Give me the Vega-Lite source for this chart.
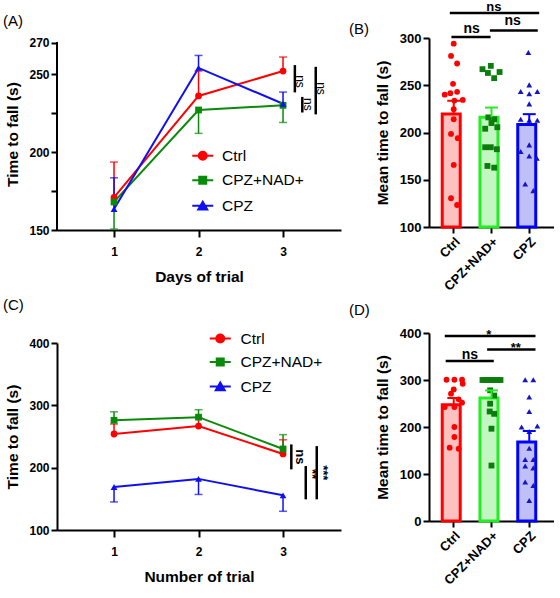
{
  "$schema": "https://vega.github.io/schema/vega-lite/v6.json",
  "background": "white",
  "padding": {"left": 3, "top": 1, "right": 0, "bottom": 0},
  "config": {
    "font": "Liberation Sans",
    "view": {"stroke": null},
    "axis": {"domainColor": "#000", "domainWidth": 2, "tickColor": "#000", "tickWidth": 2, "tickSize": 6, "labelColor": "#000", "labelFontWeight": "bold", "labelFontSize": 12, "labelPadding": 2, "titleColor": "#000", "titleFontWeight": "bold", "titleFontSize": 15.5, "grid": false, "labelFlush": false, "labelOverlap": false},
    "title": {"fontSize": 15, "fontWeight": "normal", "color": "#000", "anchor": "start", "frame": "group", "baseline": "bottom"},
    "legend": {"labelFontSize": 15.5, "labelColor": "#000", "labelFontWeight": "normal", "padding": 0, "symbolSize": 100, "symbolStrokeWidth": 2, "symbolOpacity": 1, "labelOffset": 11.5, "rowPadding": 7.5}
  },
  "datasets": {
    "A": [
      {"day": 1, "group": "Ctrl", "val": 171, "err": 193.6},
      {"day": 2, "group": "Ctrl", "val": 236, "err": 252},
      {"day": 3, "group": "Ctrl", "val": 252, "err": 261},
      {"day": 1, "group": "CPZ+NAD+", "val": 168, "err": 150.6},
      {"day": 2, "group": "CPZ+NAD+", "val": 227, "err": 212},
      {"day": 3, "group": "CPZ+NAD+", "val": 230, "err": 219},
      {"day": 1, "group": "CPZ", "val": 163.5, "err": 183.5},
      {"day": 2, "group": "CPZ", "val": 254, "err": 262},
      {"day": 3, "group": "CPZ", "val": 231, "err": 238.5}
    ],
    "C": [
      {"day": 1, "group": "Ctrl", "val": 254, "err": 270},
      {"day": 2, "group": "Ctrl", "val": 266.7, "err": 280},
      {"day": 3, "group": "Ctrl", "val": 222, "err": 244.7},
      {"day": 1, "group": "CPZ+NAD+", "val": 276, "err": 289.6},
      {"day": 2, "group": "CPZ+NAD+", "val": 281, "err": 293},
      {"day": 3, "group": "CPZ+NAD+", "val": 230, "err": 253},
      {"day": 1, "group": "CPZ", "val": 169, "err": 145},
      {"day": 2, "group": "CPZ", "val": 182, "err": 157},
      {"day": 3, "group": "CPZ", "val": 155.6, "err": 130}
    ],
    "barsB": [
      {"group": "Ctrl", "mean": 219.7, "top": 233.6},
      {"group": "CPZ+NAD+", "mean": 216.2, "top": 226.4},
      {"group": "CPZ", "mean": 208.4, "top": 219.4}
    ],
    "barsD": [
      {"group": "Ctrl", "mean": 247.4, "top": 261.7},
      {"group": "CPZ+NAD+", "mean": 261.7, "top": 277.9},
      {"group": "CPZ", "mean": 168, "top": 191.5}
    ],
    "ptsB": [
      {"group": "Ctrl", "val": 294, "slot": 0}, {"group": "Ctrl", "val": 281, "slot": -0.6}, {"group": "Ctrl", "val": 273, "slot": 0.75}, {"group": "Ctrl", "val": 251.5, "slot": -0.15}, {"group": "Ctrl", "val": 240, "slot": -2}, {"group": "Ctrl", "val": 241.6, "slot": -0.75}, {"group": "Ctrl", "val": 243, "slot": 0.75}, {"group": "Ctrl", "val": 233.8, "slot": 0.15}, {"group": "Ctrl", "val": 234.5, "slot": 2}, {"group": "Ctrl", "val": 224.7, "slot": 0}, {"group": "Ctrl", "val": 214, "slot": 0}, {"group": "Ctrl", "val": 198.5, "slot": -0.6}, {"group": "Ctrl", "val": 194, "slot": 0.9}, {"group": "Ctrl", "val": 165.7, "slot": 0}, {"group": "Ctrl", "val": 130.4, "slot": -0.6}, {"group": "Ctrl", "val": 123.3, "slot": 0.75},
      {"group": "CPZ+NAD+", "val": 267, "slot": -2}, {"group": "CPZ+NAD+", "val": 270.5, "slot": -0.15}, {"group": "CPZ+NAD+", "val": 263, "slot": -0.8}, {"group": "CPZ+NAD+", "val": 264, "slot": 1.8}, {"group": "CPZ+NAD+", "val": 257.5, "slot": 0.6}, {"group": "CPZ+NAD+", "val": 216, "slot": -0.7}, {"group": "CPZ+NAD+", "val": 214, "slot": 0.6}, {"group": "CPZ+NAD+", "val": 210, "slot": 0}, {"group": "CPZ+NAD+", "val": 204, "slot": -1.4}, {"group": "CPZ+NAD+", "val": 205.6, "slot": 1.3}, {"group": "CPZ+NAD+", "val": 184.4, "slot": -1.4}, {"group": "CPZ+NAD+", "val": 184.4, "slot": -0.15}, {"group": "CPZ+NAD+", "val": 182.3, "slot": 1.2}, {"group": "CPZ+NAD+", "val": 164.6, "slot": -0.9}, {"group": "CPZ+NAD+", "val": 162.8, "slot": 0.6},
      {"group": "CPZ", "val": 284.6, "slot": -0.2}, {"group": "CPZ", "val": 250.4, "slot": 0}, {"group": "CPZ", "val": 243.3, "slot": -1.9}, {"group": "CPZ", "val": 243.3, "slot": 1.8}, {"group": "CPZ", "val": 240.9, "slot": 0}, {"group": "CPZ", "val": 230.3, "slot": 0}, {"group": "CPZ", "val": 214, "slot": -1.9}, {"group": "CPZ", "val": 213, "slot": 0}, {"group": "CPZ", "val": 213, "slot": 1.8}, {"group": "CPZ", "val": 186.9, "slot": 0}, {"group": "CPZ", "val": 179.8, "slot": -1.9}, {"group": "CPZ", "val": 175.2, "slot": 0}, {"group": "CPZ", "val": 172.8, "slot": 1.7}, {"group": "CPZ", "val": 145.5, "slot": -0.9}, {"group": "CPZ", "val": 138.5, "slot": 0.9}
    ],
    "ptsD": [
      {"group": "Ctrl", "val": 300.6, "slot": -1.6}, {"group": "Ctrl", "val": 300.6, "slot": 0.15}, {"group": "Ctrl", "val": 300.6, "slot": 1.85}, {"group": "Ctrl", "val": 292, "slot": 2}, {"group": "Ctrl", "val": 280, "slot": 0}, {"group": "Ctrl", "val": 270.9, "slot": -0.6}, {"group": "Ctrl", "val": 258.8, "slot": 1.1}, {"group": "Ctrl", "val": 251.7, "slot": 1.85}, {"group": "Ctrl", "val": 242.5, "slot": -2}, {"group": "Ctrl", "val": 242.5, "slot": 0.15}, {"group": "Ctrl", "val": 200, "slot": 0.15}, {"group": "Ctrl", "val": 178.7, "slot": 0.15}, {"group": "Ctrl", "val": 156, "slot": -0.9}, {"group": "Ctrl", "val": 153.8, "slot": 1.1},
      {"group": "CPZ+NAD+", "val": 300, "slot": -2}, {"group": "CPZ+NAD+", "val": 300, "slot": -1.33}, {"group": "CPZ+NAD+", "val": 300, "slot": -0.67}, {"group": "CPZ+NAD+", "val": 300, "slot": 0}, {"group": "CPZ+NAD+", "val": 300, "slot": 0.67}, {"group": "CPZ+NAD+", "val": 300, "slot": 1.33}, {"group": "CPZ+NAD+", "val": 300, "slot": 2}, {"group": "CPZ+NAD+", "val": 278, "slot": -0.3}, {"group": "CPZ+NAD+", "val": 267, "slot": 0.6}, {"group": "CPZ+NAD+", "val": 249.6, "slot": -0.3}, {"group": "CPZ+NAD+", "val": 233, "slot": -0.4}, {"group": "CPZ+NAD+", "val": 228, "slot": 0.6}, {"group": "CPZ+NAD+", "val": 196.4, "slot": 0}, {"group": "CPZ+NAD+", "val": 118, "slot": 0},
      {"group": "CPZ", "val": 300.6, "slot": -0.9}, {"group": "CPZ", "val": 300.6, "slot": 0.9}, {"group": "CPZ", "val": 263.8, "slot": 0}, {"group": "CPZ", "val": 233, "slot": 0}, {"group": "CPZ", "val": 200, "slot": -1.7}, {"group": "CPZ", "val": 202, "slot": 1.8}, {"group": "CPZ", "val": 190.6, "slot": 0}, {"group": "CPZ", "val": 155, "slot": 0}, {"group": "CPZ", "val": 131, "slot": -0.9}, {"group": "CPZ", "val": 131, "slot": 0.9}, {"group": "CPZ", "val": 117, "slot": -0.9}, {"group": "CPZ", "val": 113, "slot": 0.9}, {"group": "CPZ", "val": 83, "slot": -0.9}, {"group": "CPZ", "val": 75.7, "slot": 0.9}, {"group": "CPZ", "val": 43.8, "slot": 0}
    ]
  },
  "spacing": 8,
  "resolve": {"scale": {"color": "independent", "shape": "independent", "fill": "independent", "stroke": "independent"}, "legend": {"color": "independent", "shape": "independent", "stroke": "independent"}},
  "hconcat": [
    {
      "spacing": 12,
      "resolve": {"scale": {"color": "independent", "shape": "independent", "fill": "independent", "stroke": "independent"}, "legend": {"color": "independent", "shape": "independent", "stroke": "independent"}},
      "vconcat": [
        {
          "width": 284, "height": 192,
          "title": {"text": "(A)", "dx": -54, "offset": 8},
          "data": {"name": "A"},
          "encoding": {
            "x": {"field": "day", "type": "quantitative", "scale": {"domain": [0.325, 3.686], "nice": false, "zero": false}, "axis": {"values": [1, 2, 3], "format": "d", "title": "Days of trial", "titlePadding": 12, "labelPadding": 9, "tickSize": 7}},
            "y": {"field": "val", "type": "quantitative", "scale": {"domain": [150, 273.2], "nice": false, "zero": false}, "axis": {"domain": false, "values": [150, 175, 200, 225, 250, 270], "labelExpr": "datum.value == 175 || datum.value == 225 ? '' : datum.label", "title": "Time to fall (s)", "titlePadding": 8}}
          },
          "layer": [
            {"mark": {"type": "rule", "strokeWidth": 2, "color": "#000", "strokeCap": "square"}, "encoding": {"x": {"datum": 0.325}, "y": {"datum": 150}, "y2": {"datum": 270}}},
            {"mark": {"type": "rule", "strokeWidth": 1.5}, "encoding": {"y2": {"field": "err"}, "color": {"field": "group", "type": "nominal", "scale": {"domain": ["Ctrl", "CPZ+NAD+", "CPZ"], "range": ["#ff0000", "#0a8a0a", "#1010ee"]}}}},
            {"mark": {"type": "tick", "orient": "horizontal", "size": 8, "thickness": 1.5}, "encoding": {"y": {"field": "err", "type": "quantitative"}, "color": {"field": "group", "type": "nominal"}}},
            {"mark": {"type": "line", "strokeWidth": 2}, "encoding": {"color": {"field": "group", "type": "nominal"}}},
            {"transform": [{"filter": "datum.group === 'Ctrl'"}], "mark": {"type": "point", "shape": "circle", "filled": true, "opacity": 1, "size": 46}, "encoding": {"color": {"field": "group", "type": "nominal"}}},
            {"transform": [{"filter": "datum.group === 'CPZ+NAD+'"}], "mark": {"type": "point", "shape": "square", "filled": true, "opacity": 1, "size": 46}, "encoding": {"color": {"field": "group", "type": "nominal"}}},
            {"transform": [{"filter": "datum.group === 'CPZ'"}], "mark": {"type": "point", "shape": "triangle-up", "filled": true, "opacity": 1, "size": 46}, "encoding": {"color": {"field": "group", "type": "nominal"}}},
            {"mark": {"type": "point", "filled": true, "opacity": 0, "size": 46},
             "encoding": {
               "color": {"field": "group", "type": "nominal", "legend": {"title": null, "orient": "none", "legendX": 138, "legendY": 110, "rowPadding": 7.5, "symbolOpacity": 1}},
               "stroke": {"field": "group", "type": "nominal", "scale": {"domain": ["Ctrl", "CPZ+NAD+", "CPZ"], "range": ["#ff0000", "#0a8a0a", "#1010ee"]}},
               "shape": {"field": "group", "type": "nominal", "scale": {"domain": ["Ctrl", "CPZ+NAD+", "CPZ"], "range": ["M-2.1,0H2.1M0.8,0A0.8,0.8,0,1,1,-0.8,0A0.8,0.8,0,1,1,0.8,0Z", "M-2.1,0H2.1M-0.7,-0.7H0.7V0.7H-0.7Z", "M-2.1,0H2.1M0,-0.8L0.9,0.75L-0.9,0.75Z"]}}
             }},
            {"data": {"values": [{"day": 3.14, "val": 238.3, "err": 255.8}, {"day": 3.228, "val": 225.4, "err": 235.4}, {"day": 3.387, "val": 224.2, "err": 254.7}]}, "mark": {"type": "rule", "strokeWidth": 2.5, "color": "#000"}, "encoding": {"y2": {"field": "err"}}},
            {"data": {"values": [{"day": 3.196, "val": 245.3, "t": "ns"}, {"day": 3.298, "val": 230.6, "t": "ns"}, {"day": 3.45, "val": 240.8, "t": "ns"}]}, "mark": {"type": "text", "angle": 90, "fontSize": 12, "color": "#000", "align": "center", "baseline": "middle"}, "encoding": {"text": {"field": "t"}}}
          ]
        },
        {
          "width": 284, "height": 187,
          "title": {"text": "(C)", "dx": -54, "offset": 18},
          "data": {"name": "C"},
          "encoding": {
            "x": {"field": "day", "type": "quantitative", "scale": {"domain": [0.325, 3.686], "nice": false, "zero": false}, "axis": {"values": [1, 2, 3], "format": "d", "title": "Number of trial", "titlePadding": 12, "labelPadding": 9, "tickSize": 7}},
            "y": {"field": "val", "type": "quantitative", "scale": {"domain": [100, 400], "nice": false, "zero": false}, "axis": {"values": [100, 200, 300, 400], "title": "Time to fall (s)", "titlePadding": 8}}
          },
          "layer": [
            {"mark": {"type": "rule", "strokeWidth": 1.5}, "encoding": {"y2": {"field": "err"}, "color": {"field": "group", "type": "nominal", "scale": {"domain": ["Ctrl", "CPZ+NAD+", "CPZ"], "range": ["#ff0000", "#0a8a0a", "#1010ee"]}}}},
            {"mark": {"type": "tick", "orient": "horizontal", "size": 8, "thickness": 1.5}, "encoding": {"y": {"field": "err", "type": "quantitative"}, "color": {"field": "group", "type": "nominal"}}},
            {"mark": {"type": "line", "strokeWidth": 2}, "encoding": {"color": {"field": "group", "type": "nominal"}}},
            {"transform": [{"filter": "datum.group === 'Ctrl'"}], "mark": {"type": "point", "shape": "circle", "filled": true, "opacity": 1, "size": 46}, "encoding": {"color": {"field": "group", "type": "nominal"}}},
            {"transform": [{"filter": "datum.group === 'CPZ+NAD+'"}], "mark": {"type": "point", "shape": "square", "filled": true, "opacity": 1, "size": 46}, "encoding": {"color": {"field": "group", "type": "nominal"}}},
            {"transform": [{"filter": "datum.group === 'CPZ'"}], "mark": {"type": "point", "shape": "triangle-up", "filled": true, "opacity": 1, "size": 46}, "encoding": {"color": {"field": "group", "type": "nominal"}}},
            {"mark": {"type": "point", "filled": true, "opacity": 0, "size": 46},
             "encoding": {
               "color": {"field": "group", "type": "nominal", "legend": {"title": null, "orient": "none", "legendX": 155.5, "legendY": -12.2, "rowPadding": 6.5, "labelOffset": 12.5, "symbolOpacity": 1}},
               "stroke": {"field": "group", "type": "nominal", "scale": {"domain": ["Ctrl", "CPZ+NAD+", "CPZ"], "range": ["#ff0000", "#0a8a0a", "#1010ee"]}},
               "shape": {"field": "group", "type": "nominal", "scale": {"domain": ["Ctrl", "CPZ+NAD+", "CPZ"], "range": ["M-2.1,0H2.1M0.8,0A0.8,0.8,0,1,1,-0.8,0A0.8,0.8,0,1,1,0.8,0Z", "M-2.1,0H2.1M-0.7,-0.7H0.7V0.7H-0.7Z", "M-2.1,0H2.1M0,-0.8L0.9,0.75L-0.9,0.75Z"]}}
             }},
            {"data": {"values": [{"day": 3.098, "val": 197.3, "err": 237.3}, {"day": 3.269, "val": 149.2, "err": 202.6}, {"day": 3.399, "val": 149.2, "err": 234.6}]}, "mark": {"type": "rule", "strokeWidth": 2.5, "color": "#000"}, "encoding": {"y2": {"field": "err"}}},
            {"data": {"values": [{"day": 3.196, "val": 217.3, "t": "ns"}, {"day": 3.337, "val": 189.7, "t": "**"}, {"day": 3.473, "val": 191.8, "t": "***"}]}, "mark": {"type": "text", "angle": 90, "fontSize": 13, "fontWeight": "bold", "color": "#000", "align": "center", "baseline": "middle"}, "encoding": {"text": {"field": "t"}}}
          ]
        }
      ]
    },
    {
      "spacing": 9,
      "resolve": {"scale": {"color": "independent", "shape": "independent", "fill": "independent", "stroke": "independent"}, "legend": {"color": "independent", "shape": "independent", "stroke": "independent"}},
      "vconcat": [
        {
          "width": 125, "height": 189,
          "title": {"text": "(B)", "dx": -80, "offset": -36},
          "layer": [
            {"data": {"name": "barsB"}, "mark": {"type": "bar", "strokeWidth": 3},
             "encoding": {
               "x": {"field": "group", "type": "nominal", "scale": {"domain": ["Ctrl", "CPZ+NAD+", "CPZ"], "paddingInner": 0.39, "paddingOuter": 0.35}, "axis": {"title": null, "labelAngle": -45, "labelFontSize": 13}},
               "y": {"field": "mean", "type": "quantitative", "scale": {"domain": [100, 300], "nice": false, "zero": false}, "axis": {"values": [100, 150, 200, 250, 300], "title": "Mean time to fall (s)", "titlePadding": 9, "labelFontSize": 13}},
               "y2": {"datum": 100},
               "fill": {"field": "group", "type": "nominal", "scale": {"domain": ["Ctrl", "CPZ+NAD+", "CPZ"], "range": ["#ffc0c0", "#c2f7c2", "#c0c0f8"]}, "legend": null},
               "stroke": {"field": "group", "type": "nominal", "scale": {"domain": ["Ctrl", "CPZ+NAD+", "CPZ"], "range": ["#ff0000", "#22ee22", "#0000ff"]}, "legend": null}
             }},
            {"data": {"name": "ptsB"}, "mark": {"type": "point", "filled": true, "opacity": 1, "size": 34},
             "encoding": {
               "x": {"field": "group", "type": "nominal"},
               "xOffset": {"field": "slot", "type": "quantitative", "scale": {"domain": [-2, 2], "range": [2.5, 20.5]}},
               "y": {"field": "val", "type": "quantitative"},
               "color": {"field": "group", "type": "nominal", "scale": {"domain": ["Ctrl", "CPZ+NAD+", "CPZ"], "range": ["#ff0000", "#0a7d0a", "#1515c8"]}, "legend": null},
               "shape": {"field": "group", "type": "nominal", "scale": {"domain": ["Ctrl", "CPZ+NAD+", "CPZ"], "range": ["circle", "square", "triangle-up"]}, "legend": null}
             }},
            {"data": {"name": "barsB"}, "mark": {"type": "rule", "strokeWidth": 2},
             "encoding": {"x": {"field": "group", "type": "nominal"}, "y": {"field": "mean", "type": "quantitative"}, "y2": {"field": "top"}, "stroke": {"field": "group", "type": "nominal", "legend": null}}},
            {"data": {"name": "barsB"}, "mark": {"type": "rule", "strokeWidth": 2},
             "encoding": {"x": {"field": "group", "type": "nominal", "bandPosition": 0.22}, "x2": {"field": "group", "bandPosition": 0.78}, "y": {"field": "top", "type": "quantitative"}, "stroke": {"field": "group", "type": "nominal", "legend": null}}},
            {"data": {"values": [{"a": "Ctrl", "b": "CPZ", "v": 326.4}]}, "mark": {"type": "rule", "strokeWidth": 2.5, "color": "#000", "clip": false},
             "encoding": {"x": {"field": "a", "type": "nominal", "bandPosition": 0.33}, "x2": {"field": "b", "bandPosition": 0.93}, "y": {"field": "v", "type": "quantitative"}}},
            {"data": {"values": [{"a": "CPZ+NAD+", "b": "CPZ", "v": 308}]}, "mark": {"type": "rule", "strokeWidth": 2.5, "color": "#000", "clip": false},
             "encoding": {"x": {"field": "a", "type": "nominal", "bandPosition": 0.43}, "x2": {"field": "b", "bandPosition": 0.87}, "y": {"field": "v", "type": "quantitative"}}},
            {"data": {"values": [{"a": "Ctrl", "b": "CPZ+NAD+", "v": 301}]}, "mark": {"type": "rule", "strokeWidth": 2.5, "color": "#000", "clip": false},
             "encoding": {"x": {"field": "a", "type": "nominal", "bandPosition": 0.4}, "x2": {"field": "b", "bandPosition": 0.46}, "y": {"field": "v", "type": "quantitative"}}},
            {"data": {"values": [{"a": "CPZ+NAD+", "v": 326.4, "t": "ns"}]}, "mark": {"type": "text", "fontSize": 13, "fontWeight": "bold", "baseline": "alphabetic", "dy": -2, "color": "#000", "clip": false},
             "encoding": {"x": {"field": "a", "type": "nominal", "bandPosition": 0.6}, "y": {"field": "v", "type": "quantitative"}, "text": {"field": "t"}}},
            {"data": {"values": [{"a": "CPZ+NAD+", "v": 308, "t": "ns"}]}, "mark": {"type": "text", "fontSize": 14, "fontWeight": "bold", "baseline": "alphabetic", "dy": -5, "color": "#000", "clip": false},
             "encoding": {"x": {"field": "a", "type": "nominal", "bandPosition": 1.42}, "y": {"field": "v", "type": "quantitative"}, "text": {"field": "t"}}},
            {"data": {"values": [{"a": "Ctrl", "v": 301, "t": "ns"}]}, "mark": {"type": "text", "fontSize": 14, "fontWeight": "bold", "baseline": "alphabetic", "dy": -4, "color": "#000", "clip": false},
             "encoding": {"x": {"field": "a", "type": "nominal", "bandPosition": 1.28}, "y": {"field": "v", "type": "quantitative"}, "text": {"field": "t"}}}
          ]
        },
        {
          "width": 125, "height": 188,
          "title": {"text": "(D)", "dx": -80, "offset": 9},
          "layer": [
            {"data": {"name": "barsD"}, "mark": {"type": "bar", "strokeWidth": 3},
             "encoding": {
               "x": {"field": "group", "type": "nominal", "scale": {"domain": ["Ctrl", "CPZ+NAD+", "CPZ"], "paddingInner": 0.39, "paddingOuter": 0.35}, "axis": {"title": null, "labelAngle": -45, "labelFontSize": 13}},
               "y": {"field": "mean", "type": "quantitative", "scale": {"domain": [0, 400], "nice": false}, "axis": {"values": [0, 100, 200, 300, 400], "title": "Mean time to fall (s)", "titlePadding": 9, "labelFontSize": 13}},
               "y2": {"datum": 0},
               "fill": {"field": "group", "type": "nominal", "scale": {"domain": ["Ctrl", "CPZ+NAD+", "CPZ"], "range": ["#ffc0c0", "#c2f7c2", "#c0c0f8"]}, "legend": null},
               "stroke": {"field": "group", "type": "nominal", "scale": {"domain": ["Ctrl", "CPZ+NAD+", "CPZ"], "range": ["#ff0000", "#22ee22", "#0000ff"]}, "legend": null}
             }},
            {"data": {"name": "ptsD"}, "mark": {"type": "point", "filled": true, "opacity": 1, "size": 34},
             "encoding": {
               "x": {"field": "group", "type": "nominal"},
               "xOffset": {"field": "slot", "type": "quantitative", "scale": {"domain": [-2, 2], "range": [2.5, 20.5]}},
               "y": {"field": "val", "type": "quantitative"},
               "color": {"field": "group", "type": "nominal", "scale": {"domain": ["Ctrl", "CPZ+NAD+", "CPZ"], "range": ["#ff0000", "#0a7d0a", "#1515c8"]}, "legend": null},
               "shape": {"field": "group", "type": "nominal", "scale": {"domain": ["Ctrl", "CPZ+NAD+", "CPZ"], "range": ["circle", "square", "triangle-up"]}, "legend": null}
             }},
            {"data": {"name": "barsD"}, "mark": {"type": "rule", "strokeWidth": 2},
             "encoding": {"x": {"field": "group", "type": "nominal"}, "y": {"field": "mean", "type": "quantitative"}, "y2": {"field": "top"}, "stroke": {"field": "group", "type": "nominal", "legend": null}}},
            {"data": {"name": "barsD"}, "mark": {"type": "rule", "strokeWidth": 2},
             "encoding": {"x": {"field": "group", "type": "nominal", "bandPosition": 0.22}, "x2": {"field": "group", "bandPosition": 0.78}, "y": {"field": "top", "type": "quantitative"}, "stroke": {"field": "group", "type": "nominal", "legend": null}}},
            {"data": {"values": [{"a": "Ctrl", "b": "CPZ", "v": 393.6}]}, "mark": {"type": "rule", "strokeWidth": 2.5, "color": "#000", "clip": false},
             "encoding": {"x": {"field": "a", "type": "nominal", "bandPosition": 0.11}, "x2": {"field": "b", "bandPosition": 0.77}, "y": {"field": "v", "type": "quantitative"}}},
            {"data": {"values": [{"a": "CPZ+NAD+", "b": "CPZ", "v": 365}]}, "mark": {"type": "rule", "strokeWidth": 2.5, "color": "#000", "clip": false},
             "encoding": {"x": {"field": "a", "type": "nominal", "bandPosition": 0.31}, "x2": {"field": "b", "bandPosition": 0.77}, "y": {"field": "v", "type": "quantitative"}}},
            {"data": {"values": [{"a": "Ctrl", "b": "CPZ+NAD+", "v": 340.4}]}, "mark": {"type": "rule", "strokeWidth": 2.5, "color": "#000", "clip": false},
             "encoding": {"x": {"field": "a", "type": "nominal", "bandPosition": 0.15}, "x2": {"field": "b", "bandPosition": 0.6}, "y": {"field": "v", "type": "quantitative"}}},
            {"data": {"values": [{"a": "CPZ+NAD+", "v": 393.6, "t": "*"}]}, "mark": {"type": "text", "fontSize": 13, "fontWeight": "bold", "baseline": "alphabetic", "dy": 3, "color": "#000", "clip": false},
             "encoding": {"x": {"field": "a", "type": "nominal", "bandPosition": 0.38}, "y": {"field": "v", "type": "quantitative"}, "text": {"field": "t"}}},
            {"data": {"values": [{"a": "CPZ+NAD+", "v": 365, "t": "**"}]}, "mark": {"type": "text", "fontSize": 13, "fontWeight": "bold", "baseline": "alphabetic", "dy": 2.5, "color": "#000", "clip": false},
             "encoding": {"x": {"field": "a", "type": "nominal", "bandPosition": 1.55}, "y": {"field": "v", "type": "quantitative"}, "text": {"field": "t"}}},
            {"data": {"values": [{"a": "Ctrl", "v": 340.4, "t": "ns"}]}, "mark": {"type": "text", "fontSize": 14, "fontWeight": "bold", "baseline": "alphabetic", "dy": -2, "color": "#000", "clip": false},
             "encoding": {"x": {"field": "a", "type": "nominal", "bandPosition": 1.2}, "y": {"field": "v", "type": "quantitative"}, "text": {"field": "t"}}}
          ]
        }
      ]
    }
  ]
}
